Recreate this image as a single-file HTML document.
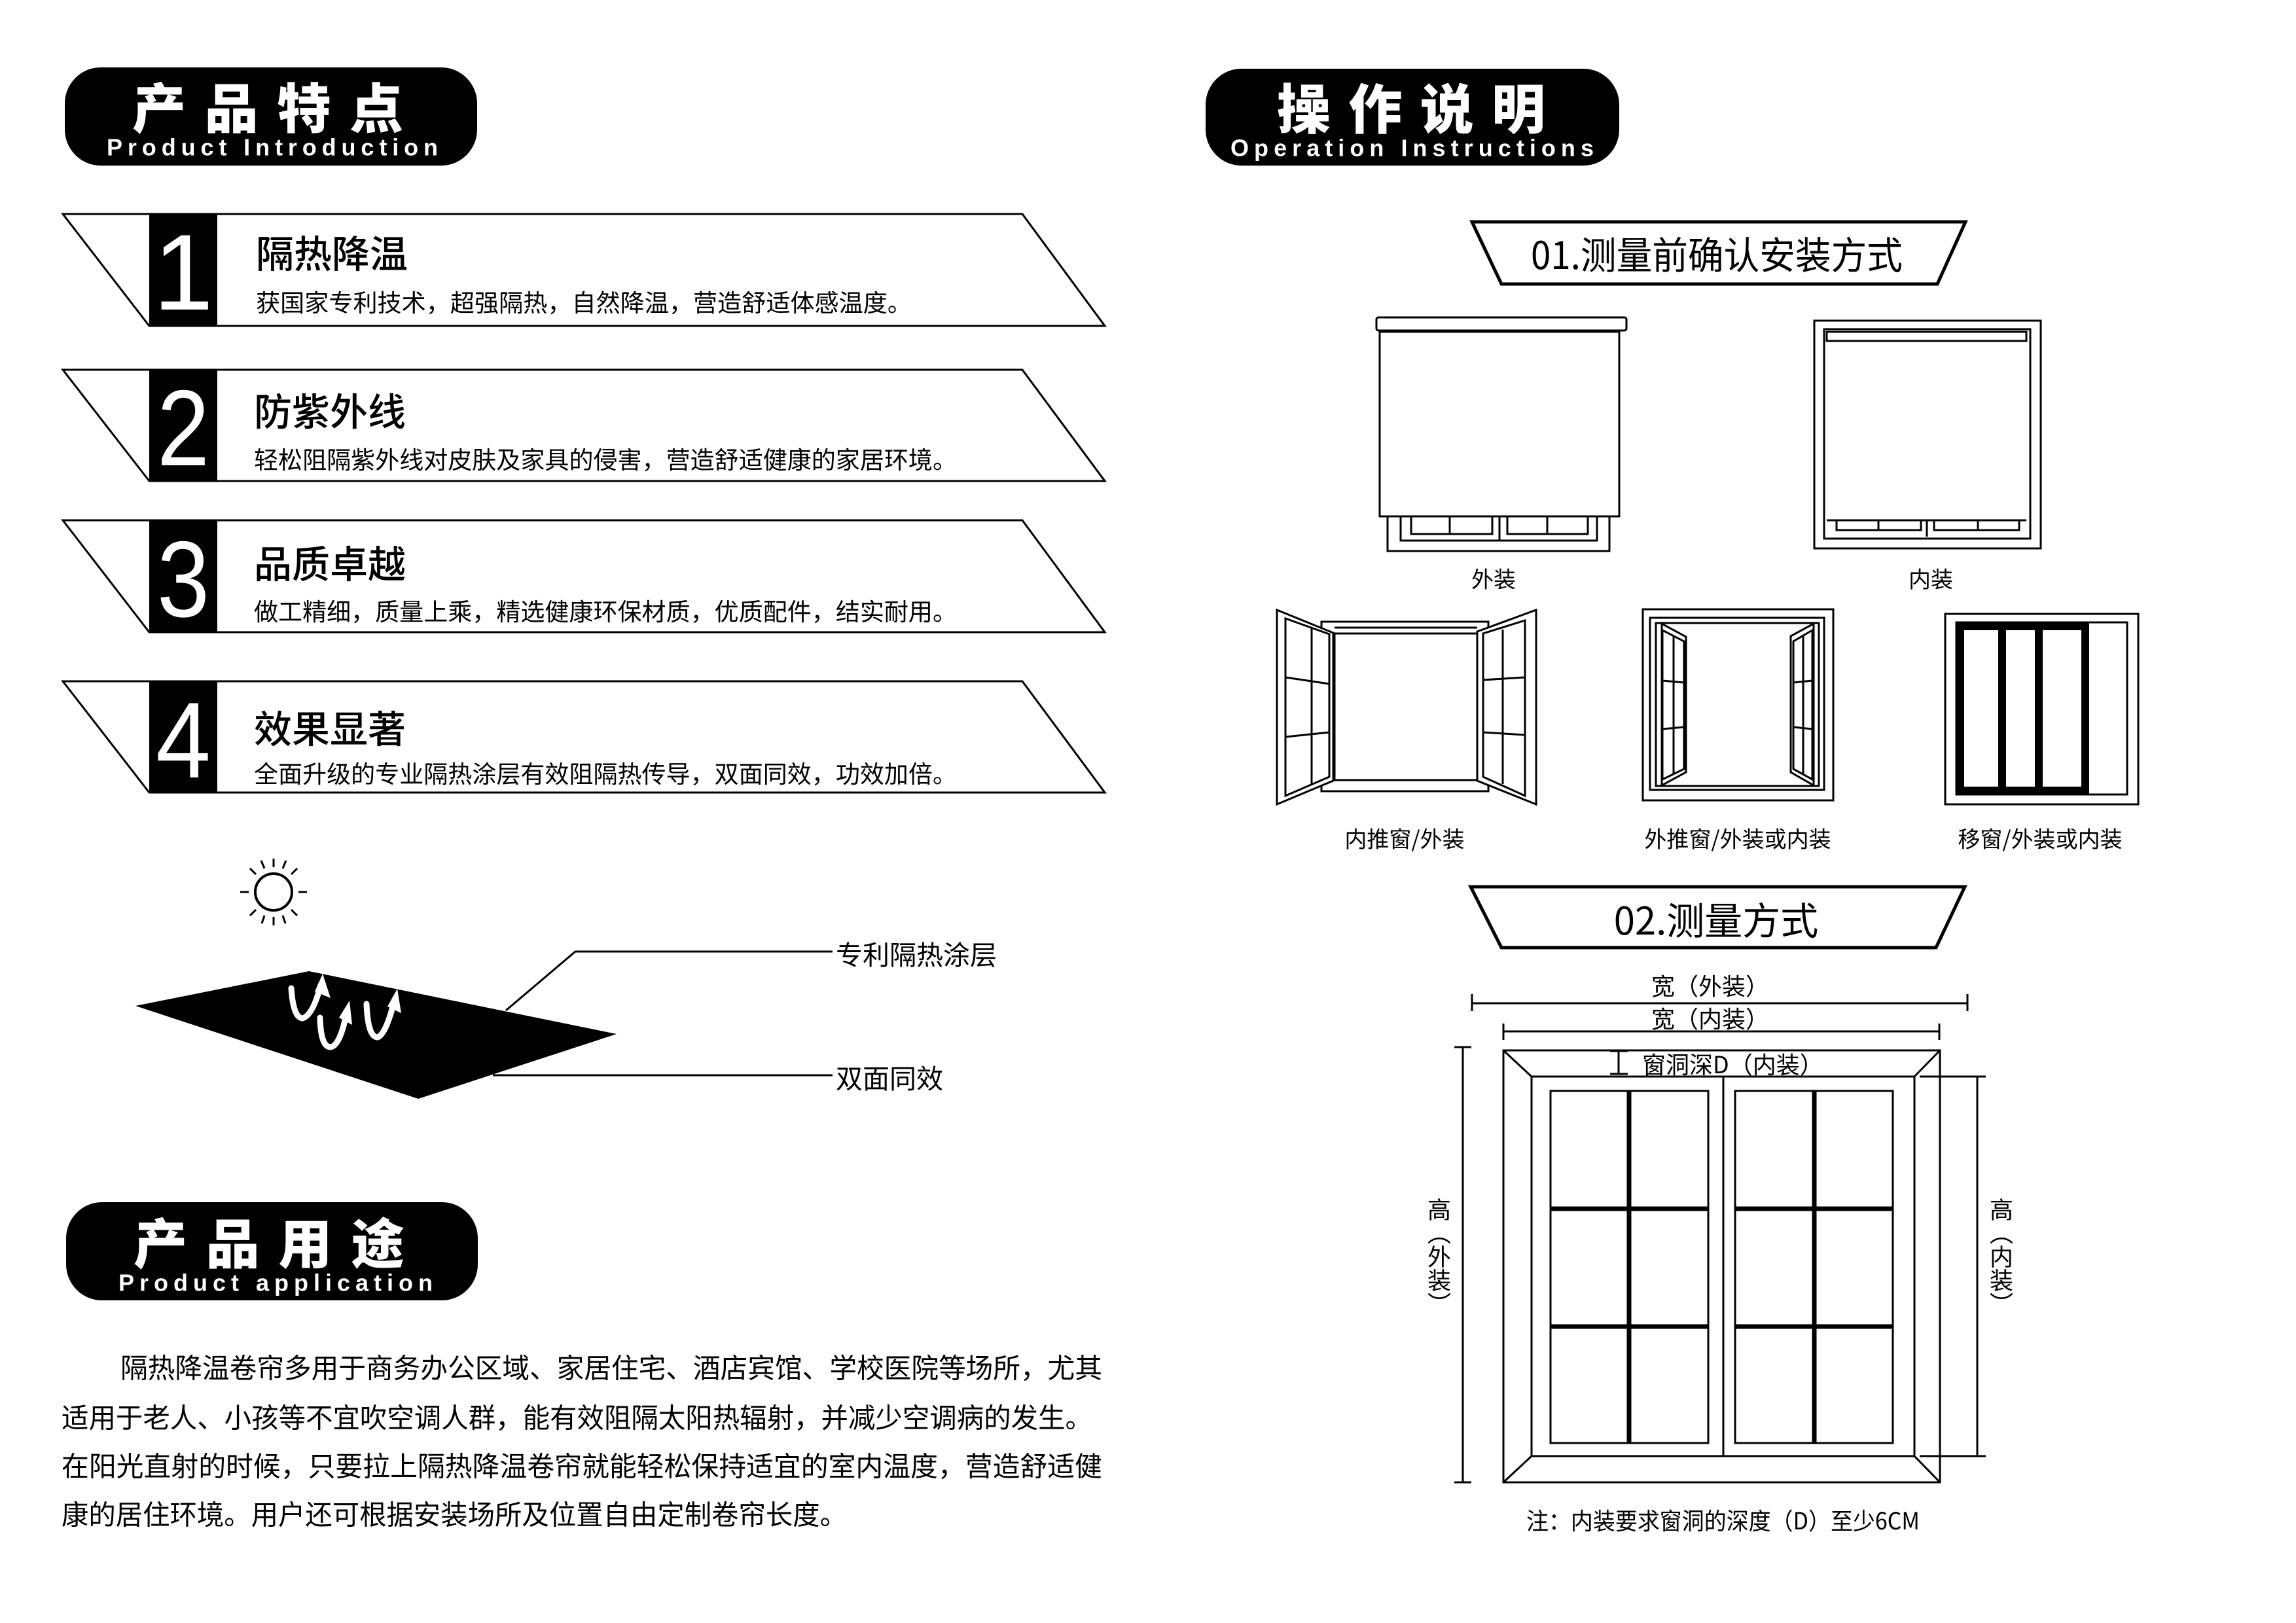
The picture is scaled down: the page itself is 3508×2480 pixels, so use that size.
<!DOCTYPE html>
<html><head><meta charset="utf-8"><style>
html,body{margin:0;padding:0;background:#fff;}
svg{display:block;}
text{font-family:"Liberation Sans","Noto Sans CJK SC",sans-serif;fill:#000;}
.cj{font-family:"Noto Sans CJK SC","WenQuanYi Zen Hei",sans-serif;}
</style></head><body>
<svg width="3508" height="2480" viewBox="0 0 3508 2480" xmlns="http://www.w3.org/2000/svg">
<rect width="3508" height="2480" fill="#fff"/>

<!-- Pill 1 -->
<rect x="99" y="103" width="630" height="150" rx="55" fill="#000"/>
<text x="202" y="160" class="cj" font-size="82" font-weight="900" style="fill:#fff" dominant-baseline="central" textLength="414" lengthAdjust="spacing">产品特点</text>
<text x="163" y="225" font-size="36" font-weight="bold" style="fill:#fff" dominant-baseline="central" textLength="506" lengthAdjust="spacing">Product Introduction</text>

<!-- Ribbons -->
<g fill="none" stroke="#000" stroke-width="3">
<polygon points="96,327 1562,327 1688,498 228,498"/>
<polygon points="96,565 1562,565 1688,735 228,735"/>
<polygon points="96,795 1562,795 1688,966 228,966"/>
<polygon points="96,1041 1562,1041 1688,1211 228,1211"/>
</g>
<rect x="228" y="327" width="104" height="171" fill="#000"/>
<rect x="228" y="565" width="104" height="170" fill="#000"/>
<rect x="228" y="795" width="104" height="171" fill="#000"/>
<rect x="228" y="1041" width="104" height="170" fill="#000"/>
<g font-size="165" style="fill:#fff" text-anchor="middle">
<text x="280" y="473" style="fill:#fff">1</text>
<text x="280" y="711" style="fill:#fff" textLength="80" lengthAdjust="spacingAndGlyphs">2</text>
<text x="280" y="942" style="fill:#fff" textLength="80" lengthAdjust="spacingAndGlyphs">3</text>
<text x="280" y="1188" style="fill:#fff" textLength="84" lengthAdjust="spacingAndGlyphs">4</text>
</g>
<g class="cj" dominant-baseline="central">
<text x="391" y="384" class="cj" font-size="58" font-weight="500" dominant-baseline="central">隔热降温</text>
<text x="391" y="460" class="cj" font-size="37" dominant-baseline="central" textLength="1002" lengthAdjust="spacingAndGlyphs">获国家专利技术，超强隔热，自然降温，营造舒适体感温度。</text>
<text x="388" y="625" class="cj" font-size="58" font-weight="500" dominant-baseline="central">防紫外线</text>
<text x="388" y="700" class="cj" font-size="37" dominant-baseline="central" textLength="1074" lengthAdjust="spacingAndGlyphs">轻松阻隔紫外线对皮肤及家具的侵害，营造舒适健康的家居环境。</text>
<text x="388" y="858" class="cj" font-size="58" font-weight="500" dominant-baseline="central">品质卓越</text>
<text x="388" y="932" class="cj" font-size="37" dominant-baseline="central" textLength="1074" lengthAdjust="spacingAndGlyphs">做工精细，质量上乘，精选健康环保材质，优质配件，结实耐用。</text>
<text x="388" y="1110" class="cj" font-size="58" font-weight="500" dominant-baseline="central">效果显著</text>
<text x="388" y="1180" class="cj" font-size="37" dominant-baseline="central" textLength="1074" lengthAdjust="spacingAndGlyphs">全面升级的专业隔热涂层有效阻隔热传导，双面同效，功效加倍。</text>
</g>

<!-- Sun -->
<g stroke="#000" stroke-width="4" fill="none">
<circle cx="418" cy="1363" r="28"/>
<g stroke-width="3">
<line x1="418" y1="1325" x2="418" y2="1312"/>
<line x1="418" y1="1401" x2="418" y2="1414"/>
<line x1="380" y1="1363" x2="367" y2="1363"/>
<line x1="456" y1="1363" x2="469" y2="1363"/>
<line x1="391" y1="1336" x2="382" y2="1327"/>
<line x1="445" y1="1336" x2="454" y2="1327"/>
<line x1="391" y1="1390" x2="382" y2="1399"/>
<line x1="445" y1="1390" x2="454" y2="1399"/>
<line x1="404" y1="1327" x2="399" y2="1315"/>
<line x1="432" y1="1327" x2="437" y2="1315"/>
<line x1="404" y1="1399" x2="400" y2="1411"/>
<line x1="432" y1="1399" x2="436" y2="1411"/>
</g></g>

<!-- Coating sheet -->
<polygon points="207,1537 472,1484 942,1580 639,1679" fill="#000"/>
<g fill="none" stroke="#fff" stroke-width="9" stroke-linecap="round">
<path d="M445,1510 Q448,1555 462,1556 Q478,1552 490,1505"/>
<path d="M489,1555 Q490,1600 505,1600 Q520,1598 530,1545"/>
<path d="M560,1534 Q562,1585 577,1585 Q590,1580 603,1527"/>
</g>
<g fill="#fff">
<polygon points="493,1488 505,1525 481,1515"/>
<polygon points="534,1529 538,1566 518,1555"/>
<polygon points="607,1511 613,1548 592,1538"/>
</g>
<g stroke="#000" stroke-width="3" fill="none">
<polyline points="773,1544 879,1454 1272,1454"/>
<line x1="753" y1="1643" x2="1272" y2="1643"/>
</g>
<text x="1277" y="1456" class="cj" font-size="41" dominant-baseline="central">专利隔热涂层</text>
<text x="1277" y="1645" class="cj" font-size="41" dominant-baseline="central">双面同效</text>

<!-- Pill 2 -->
<rect x="101" y="1837" width="629" height="150" rx="55" fill="#000"/>
<text x="204" y="1895" class="cj" font-size="82" font-weight="900" style="fill:#fff" dominant-baseline="central" textLength="414" lengthAdjust="spacing">产品用途</text>
<text x="181" y="1960" font-size="36" font-weight="bold" style="fill:#fff" dominant-baseline="central" textLength="480" lengthAdjust="spacing">Product application</text>

<!-- Paragraph -->
<g class="cj" font-size="42">
<text x="184" y="2088" class="cj" dominant-baseline="central" textLength="1500" lengthAdjust="spacingAndGlyphs">隔热降温卷帘多用于商务办公区域、家居住宅、酒店宾馆、学校医院等场所，尤其</text>
<text x="94" y="2164" class="cj" dominant-baseline="central" textLength="1575" lengthAdjust="spacingAndGlyphs">适用于老人、小孩等不宜吹空调人群，能有效阻隔太阳热辐射，并减少空调病的发生。</text>
<text x="94" y="2238" class="cj" dominant-baseline="central" textLength="1590" lengthAdjust="spacingAndGlyphs">在阳光直射的时候，只要拉上隔热降温卷帘就能轻松保持适宜的室内温度，营造舒适健</text>
<text x="94" y="2312" class="cj" dominant-baseline="central" textLength="1200" lengthAdjust="spacingAndGlyphs">康的居住环境。用户还可根据安装场所及位置自由定制卷帘长度。</text>
</g>

<!-- Pill 3 -->
<rect x="1842" y="105" width="632" height="148" rx="55" fill="#000"/>
<text x="1951" y="161" class="cj" font-size="82" font-weight="900" style="fill:#fff" dominant-baseline="central" textLength="410" lengthAdjust="spacing">操作说明</text>
<text x="1880" y="226" font-size="36" font-weight="bold" style="fill:#fff" dominant-baseline="central" textLength="555" lengthAdjust="spacing">Operation Instructions</text>

<!-- Banner 01 -->
<polygon points="2249,339 3003,339 2960,434 2294,434" fill="#fff" stroke="#000" stroke-width="5"/>
<text x="2339" y="386" class="cj" font-size="58" dominant-baseline="central" textLength="568" lengthAdjust="spacingAndGlyphs">01.测量前确认安装方式</text>

<g fill="none" stroke="#000" stroke-width="3">
<!-- 外装 -->
<rect x="2120" y="789" width="339" height="53"/>
<rect x="2140" y="789" width="300" height="37"/>
<rect x="2156" y="789" width="124" height="27"/>
<line x1="2215" y1="789" x2="2215" y2="816"/>
<rect x="2303" y="789" width="123" height="27"/>
<line x1="2364" y1="789" x2="2364" y2="816"/>
<line x1="2291" y1="789" x2="2291" y2="826"/>
<rect x="2108" y="507" width="366" height="282" fill="#fff"/>
<rect x="2103" y="485" width="382" height="20" rx="3"/>
<!-- 内装 -->
<rect x="2772" y="490" width="346" height="348"/>
<rect x="2787" y="503" width="315" height="320"/>
<rect x="2791" y="507" width="305" height="14"/>
<line x1="2791" y1="795" x2="3096" y2="795"/>
<rect x="2806" y="795" width="129" height="15"/>
<line x1="2870" y1="795" x2="2870" y2="810"/>
<rect x="2955" y="795" width="130" height="15"/>
<line x1="3022" y1="795" x2="3022" y2="810"/>
<line x1="2944" y1="795" x2="2944" y2="820"/>

<!-- 内推窗 -->
<rect x="2019" y="950" width="255" height="259"/>
<rect x="2039" y="968" width="218" height="224" fill="#fff"/>
<line x1="2039" y1="959" x2="2257" y2="959"/>
<polygon points="1951,932 2037,967 2037,1193 1951,1229" fill="#fff"/>
<polygon points="1964,945 2031,969 2031,1187 1964,1216"/>
<line x1="2004" y1="959" x2="2004" y2="1198"/>
<line x1="1964" y1="1035" x2="2031" y2="1045"/>
<line x1="1964" y1="1126" x2="2031" y2="1119"/>
<polygon points="2347,932 2257,965 2257,1193 2347,1229" fill="#fff"/>
<polygon points="2330,948 2266,968 2266,1187 2330,1216"/>
<line x1="2296" y1="962" x2="2296" y2="1198"/>
<line x1="2266" y1="1039" x2="2330" y2="1035"/>
<line x1="2266" y1="1119" x2="2330" y2="1123"/>

<!-- 外推窗 -->
<rect x="2510" y="931" width="291" height="292"/>
<rect x="2521" y="944" width="266" height="263"/>
<rect x="2530" y="952" width="249" height="249"/>
<polygon points="2539,953 2576,973 2576,1180 2539,1200"/>
<polygon points="2540,963 2573,980 2573,1175 2540,1191"/>
<line x1="2557" y1="971" x2="2557" y2="1183"/>
<line x1="2540" y1="1040" x2="2573" y2="1043"/>
<line x1="2540" y1="1114" x2="2573" y2="1111"/>
<polygon points="2771,953 2736,972 2736,1180 2771,1200"/>
<polygon points="2769,963 2740,980 2740,1175 2769,1191"/>
<line x1="2755" y1="971" x2="2755" y2="1183"/>
<line x1="2740" y1="1043" x2="2769" y2="1040"/>
<line x1="2740" y1="1111" x2="2769" y2="1114"/>

<!-- 移窗 -->
<rect x="2972" y="938" width="295" height="291"/>
<rect x="2989" y="951" width="261" height="263"/>
</g>
<g fill="none" stroke="#000" stroke-width="12">
<rect x="2995" y="957" width="191" height="251"/>
<line x1="3059" y1="957" x2="3059" y2="1208"/>
<line x1="3115" y1="957" x2="3115" y2="1208"/>
</g>

<g class="cj" font-size="34" text-anchor="middle">
<text x="2282" y="883" class="cj" dominant-baseline="central">外装</text>
<text x="2950" y="883" class="cj" dominant-baseline="central">内装</text>
<text x="2146" y="1280" class="cj" dominant-baseline="central">内推窗/外装</text>
<text x="2655" y="1280" class="cj" dominant-baseline="central">外推窗/外装或内装</text>
<text x="3117" y="1280" class="cj" dominant-baseline="central">移窗/外装或内装</text>
</g>

<!-- Banner 02 -->
<polygon points="2247,1355 3002,1355 2958,1448 2294,1448" fill="#fff" stroke="#000" stroke-width="5"/>
<text x="2622" y="1403" class="cj" font-size="58" text-anchor="middle" dominant-baseline="central">02.测量方式</text>

<!-- Measurement drawing -->
<g fill="none" stroke="#000" stroke-width="3">
<line x1="2249" y1="1533" x2="3006" y2="1533"/>
<line x1="2249" y1="1519" x2="2249" y2="1545"/>
<line x1="3006" y1="1519" x2="3006" y2="1545"/>
<line x1="2297" y1="1576" x2="2963" y2="1576"/>
<line x1="2297" y1="1564" x2="2297" y2="1589"/>
<line x1="2963" y1="1564" x2="2963" y2="1589"/>
<rect x="2297" y="1605" width="667" height="660"/>
<rect x="2340" y="1645" width="585" height="580"/>
<line x1="2297" y1="1605" x2="2340" y2="1645"/>
<line x1="2964" y1="1605" x2="2925" y2="1645"/>
<line x1="2297" y1="2265" x2="2340" y2="2225"/>
<line x1="2964" y1="2265" x2="2925" y2="2225"/>
<line x1="2633" y1="1645" x2="2633" y2="2225"/>
<rect x="2369" y="1667" width="241" height="538"/>
<rect x="2651" y="1667" width="241" height="538"/>
<line x1="2235" y1="1600" x2="2235" y2="2265"/>
<line x1="2222" y1="1600" x2="2248" y2="1600"/>
<line x1="2222" y1="2265" x2="2248" y2="2265"/>
<line x1="3021" y1="1645" x2="3021" y2="2225"/>
<line x1="2933" y1="1645" x2="3034" y2="1645"/>
<line x1="2933" y1="2225" x2="3034" y2="2225"/>
<line x1="2473" y1="1606" x2="2473" y2="1641"/>
<line x1="2460" y1="1606" x2="2487" y2="1606"/>
<line x1="2460" y1="1641" x2="2487" y2="1641"/>
</g>
<g fill="none" stroke="#000" stroke-width="7">
<line x1="2489" y1="1667" x2="2489" y2="2205"/>
<line x1="2772" y1="1667" x2="2772" y2="2205"/>
<line x1="2369" y1="1847" x2="2610" y2="1847"/>
<line x1="2369" y1="2027" x2="2610" y2="2027"/>
<line x1="2651" y1="1847" x2="2892" y2="1847"/>
<line x1="2651" y1="2027" x2="2892" y2="2027"/>
</g>
<g class="cj" font-size="36">
<text x="2613" y="1505" class="cj" text-anchor="middle" dominant-baseline="central">宽（外装）</text>
<text x="2613" y="1555" class="cj" text-anchor="middle" dominant-baseline="central">宽（内装）</text>
<text x="2509" y="1625" class="cj" dominant-baseline="central">窗洞深D（内装）</text>
<text x="2199" y="1830" class="cj" style="writing-mode:vertical-rl" text-anchor="start">高（外装）</text>
<text x="3058" y="1830" class="cj" style="writing-mode:vertical-rl" text-anchor="start">高（内装）</text>
<text x="2332" y="2322" class="cj" dominant-baseline="central" textLength="601" lengthAdjust="spacingAndGlyphs">注：内装要求窗洞的深度（D）至少6CM</text>
</g>
</svg>
</body></html>
